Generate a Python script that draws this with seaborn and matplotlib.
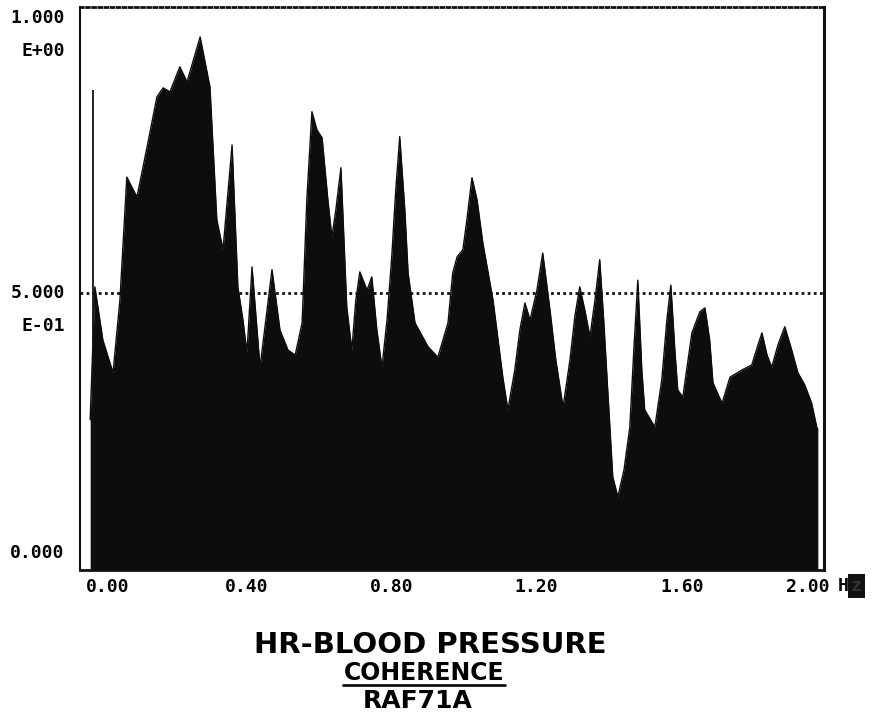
import matplotlib
matplotlib.use("Agg")
import matplotlib.pyplot as plt
import matplotlib.transforms as mtransforms
import seaborn as sns
import numpy as np
import pandas as pd

# Coherence envelope (frequency in Hz, coherence value)
freq = [-0.005, 0.008, 0.030, 0.058, 0.077, 0.096, 0.124, 0.152, 0.179, 0.196,
        0.215, 0.242, 0.262, 0.298, 0.325, 0.344, 0.361, 0.386, 0.402, 0.416,
        0.427, 0.441, 0.463, 0.479, 0.496, 0.518, 0.540, 0.560, 0.579, 0.592,
        0.606, 0.620, 0.634, 0.650, 0.661, 0.672, 0.686, 0.702, 0.716, 0.727,
        0.738, 0.758, 0.771, 0.785, 0.799, 0.813, 0.826, 0.837, 0.848, 0.862,
        0.871, 0.890, 0.926, 0.953, 0.981, 0.994, 1.006, 1.022, 1.033, 1.047,
        1.061, 1.077, 1.105, 1.132, 1.146, 1.165, 1.179, 1.193, 1.207, 1.226,
        1.242, 1.262, 1.278, 1.298, 1.317, 1.331, 1.344, 1.358, 1.372, 1.386,
        1.399, 1.410, 1.419, 1.435, 1.449, 1.466, 1.482, 1.493, 1.504, 1.515,
        1.523, 1.551, 1.570, 1.584, 1.595, 1.606, 1.614, 1.628, 1.653, 1.675,
        1.689, 1.702, 1.711, 1.736, 1.758, 1.791, 1.818, 1.835, 1.846, 1.860,
        1.873, 1.890, 1.909, 1.928, 1.945, 1.964, 1.983, 1.997, 2.000]
coherence = [0.271, 0.511, 0.415, 0.356, 0.487, 0.709, 0.673, 0.764, 0.854, 0.870,
             0.863, 0.908, 0.881, 0.962, 0.872, 0.632, 0.578, 0.767, 0.511, 0.451,
             0.392, 0.547, 0.366, 0.451, 0.542, 0.433, 0.397, 0.388, 0.446, 0.668,
             0.827, 0.794, 0.780, 0.668, 0.601, 0.650, 0.726, 0.475, 0.397, 0.487,
             0.538, 0.505, 0.529, 0.433, 0.366, 0.451, 0.565, 0.686, 0.782, 0.650,
             0.536, 0.446, 0.403, 0.384, 0.446, 0.536, 0.565, 0.578, 0.632, 0.708,
             0.668, 0.590, 0.487, 0.348, 0.289, 0.361, 0.433, 0.482, 0.451, 0.505,
             0.572, 0.469, 0.379, 0.294, 0.379, 0.460, 0.511, 0.469, 0.421, 0.487,
             0.560, 0.451, 0.348, 0.168, 0.132, 0.181, 0.258, 0.397, 0.523, 0.361,
             0.289, 0.258, 0.343, 0.451, 0.514, 0.397, 0.325, 0.312, 0.428, 0.466,
             0.473, 0.415, 0.338, 0.301, 0.348, 0.361, 0.370, 0.406, 0.428, 0.388,
             0.366, 0.406, 0.439, 0.397, 0.356, 0.334, 0.301, 0.258, 0.253]

# DC spike line
dc_freq = [0.003]
dc_value = [0.866]

reference_level = 0.5
xtick_values = [0.0, 0.4, 0.8, 1.2, 1.6, 2.0]
xtick_labels = ["0.00", "0.40", "0.80", "1.20", "1.60", "2.00"]
ytick_values = [1.0, 0.5, 0.0]
ytick_mantissa = ["1.000", "5.000", "0.000"]
ytick_exponent = ["E+00", "E-01", ""]
title_lines = ["HR-BLOOD PRESSURE", "COHERENCE", "RAF71A"]

df = pd.DataFrame({"freq": freq, "coherence": coherence})

sns.set_style("white")
plt.rcParams["font.family"] = ["DejaVu Sans Mono", "DejaVu Sans"]
plt.rcParams["text.color"] = "black"
plt.rcParams["xtick.color"] = "black"

fig = plt.figure(figsize=(8.76, 7.22), dpi=100)
ax = fig.add_axes([80 / 876, 1 - 570 / 722, 744 / 876, 563 / 722])

ax.axhline(reference_level, color="#111111", linestyle=(0, (1, 1.2)),
           linewidth=2.0, zorder=1)
sns.lineplot(data=df, x="freq", y="coherence", ax=ax, color="#0d0d0d",
             linewidth=1.0, zorder=3, legend=False)
ax.fill_between(df["freq"], 0, df["coherence"], color="#0d0d0d",
                linewidth=0, zorder=2)
ax.vlines(dc_freq, 0, dc_value, color="#111111", linewidth=1.3, zorder=4)

ax.set_xlim(-0.033, 2.017)
ax.set_ylim(0, 1.016)
ax.set_xlabel("")
ax.set_ylabel("")

ax.set_xticks(xtick_values)
ax.set_xticklabels(xtick_labels, fontsize=13, fontweight="bold", color="black")
ax.set_yticks([])
ax.tick_params(axis="x", length=0, pad=6)
label_shift_px = [16, 9, 9, 9, 9, -10]
for lab, dx in zip(ax.get_xticklabels(), label_shift_px):
    off = mtransforms.ScaledTranslation(dx / 100, 0, fig.dpi_scale_trans)
    lab.set_transform(lab.get_transform() + off)

for val, man, ex in zip(ytick_values, ytick_mantissa, ytick_exponent):
    dy = -2 if val > 0.9 else (0 if val > 0 else 17)
    ax.annotate(man, xy=(0, val), xycoords=("axes fraction", "data"),
                xytext=(-11, dy * 0.72), textcoords="offset points",
                ha="right", va="center", fontsize=13, fontweight="bold",
                color="black", annotation_clip=False)
    if ex:
        ax.annotate(ex, xy=(0, val), xycoords=("axes fraction", "data"),
                    xytext=(-11, (dy - 33) * 0.72), textcoords="offset points",
                    ha="right", va="center", fontsize=13, fontweight="bold",
                    color="black", annotation_clip=False)

for side in ["left", "right", "bottom", "top"]:
    ax.spines[side].set_visible(True)
    ax.spines[side].set_color("#111111")
ax.spines["left"].set_linewidth(1.5)
ax.spines["right"].set_linewidth(2.2)
ax.spines["bottom"].set_linewidth(2.0)
ax.spines["top"].set_linewidth(2.0)
ax.spines["top"].set_linestyle((0, (1, 1.2)))

# Hz unit label
fig.text(838 / 876, 1 - 586 / 722, "H", fontsize=13, fontweight="bold",
         ha="left", va="center", color="black")
fig.text(851 / 876, 1 - 586 / 722, "z", fontsize=13, fontweight="bold",
         ha="left", va="center", color="#333333",
         bbox=dict(boxstyle="square,pad=0.15", facecolor="#111111", edgecolor="none"))

fig.text(430 / 876, 1 - 645 / 722, title_lines[0], fontsize=21,
         fontweight="bold", ha="center", va="center", family="DejaVu Sans",
         color="black")
fig.text(424 / 876, 1 - 673 / 722, title_lines[1], fontsize=17,
         fontweight="bold", ha="center", va="center", family="DejaVu Sans",
         color="black")
fig.text(418 / 876, 1 - 701 / 722, title_lines[2], fontsize=18,
         fontweight="bold", ha="center", va="center", family="DejaVu Sans",
         color="black")
fig.add_artist(plt.Line2D([343 / 876, 505 / 876], [1 - 685 / 722, 1 - 685 / 722],
                          transform=fig.transFigure, color="#111111", linewidth=2))

fig.savefig("out.png", dpi=100, facecolor="white")
